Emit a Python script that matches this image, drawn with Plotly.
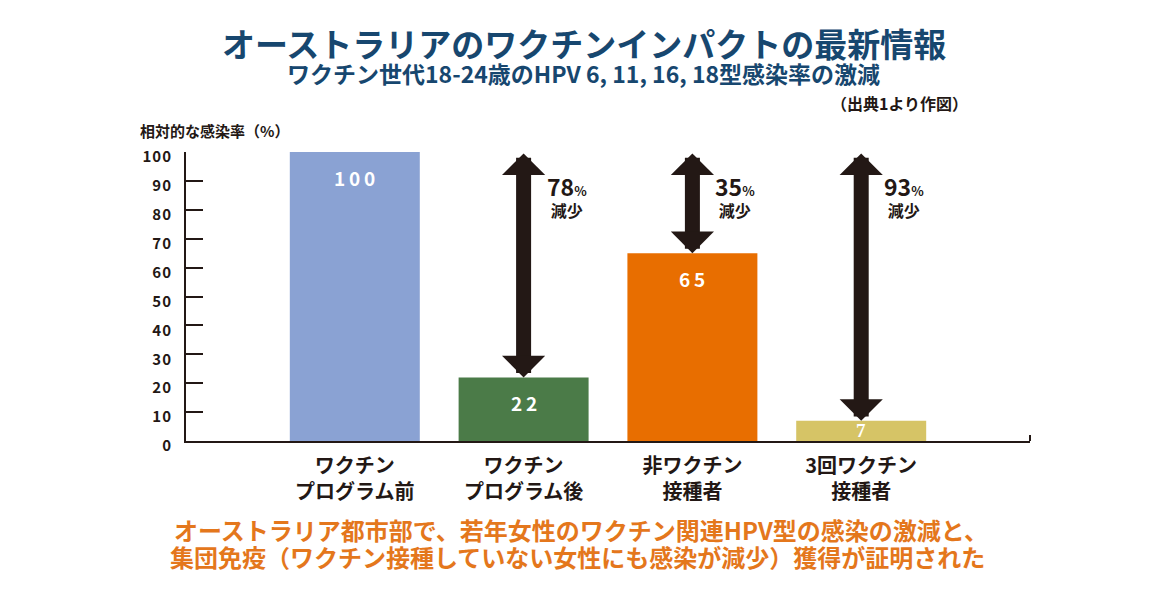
import plotly.graph_objects as go

# data
categories = ["ワクチン<br>プログラム前", "ワクチン<br>プログラム後", "非ワクチン<br>接種者", "3回ワクチン<br>接種者"]
infection_rate = [100, 22, 65, 7]
reduction = [78, 35, 93]  # % decrease vs. pre-programme, bars 2..4
y_ticks = [0, 10, 20, 30, 40, 50, 60, 70, 80, 90, 100]

bar_colors = ["#8aa2d3", "#4b7b48", "#e86e00", "#d6c466"]
dark = "#231815"
navy = "#17476f"
orange = "#e4771c"
jp = "Noto Sans CJK JP"

x_pos = list(range(len(categories)))

fig = go.Figure()
fig.add_trace(
    go.Bar(
        x=x_pos,
        y=infection_rate,
        width=0.77,
        marker=dict(color=bar_colors, line=dict(width=0)),
        hoverinfo="skip",
    )
)

annotations = []

# values inside the bars
for i, v in enumerate(infection_rate):
    label = "\u2009".join(str(v))
    if v >= 15:
        annotations.append(dict(x=i, y=v, yshift=-25, yanchor="middle", text="<b>" + label + "</b>",
                                showarrow=False, font=dict(family=jp, size=19, color="white")))
    else:
        annotations.append(dict(x=i, y=v / 2, yanchor="middle", text="<b>" + label + "</b>",
                                showarrow=False, font=dict(family="Liberation Serif", size=19, color="white")))

# double arrows from 100 down to each later bar
for i, r in enumerate(reduction, start=1):
    annotations.append(dict(
        x=i, y=infection_rate[i], ax=i, ay=infection_rate[0],
        xref="x", yref="y", axref="x", ayref="y",
        text="", showarrow=True,
        arrowhead=1, startarrowhead=1, arrowside="end+start",
        arrowwidth=15, arrowsize=0.48, startarrowsize=0.48,
        arrowcolor=dark, standoff=0, startstandoff=0,
    ))
    annotations.append(dict(
        x=i, y=85, xanchor="left", yanchor="middle", xshift=21,
        text="<b><span style='font-size:23px'>%d</span><span style='font-size:13px'>%%</span><br>減少</b>" % r,
        showarrow=False, align="center",
        font=dict(family=jp, size=16, color=dark),
    ))

# titles and notes (paper coords)
annotations += [
    dict(x=0.4716, y=1.378, xref="paper", yref="paper", xanchor="center", yanchor="middle", showarrow=False,
         text="<b>オーストラリアのワクチンインパクトの最新情報</b>",
         font=dict(family=jp, size=33, color=navy)),
    dict(x=0.4705, y=1.2734, xref="paper", yref="paper", xanchor="center", yanchor="middle", showarrow=False,
         text="<b>ワクチン世代18-24歳のHPV 6, 11, 16, 18型感染率の激減</b>",
         font=dict(family=jp, size=23, color=navy)),
    dict(x=0.929, y=1.17, xref="paper", yref="paper", xanchor="right", yanchor="middle", showarrow=False,
         text="<b>（出典1より作図）</b>",
         font=dict(family=jp, size=16, color=dark)),
    dict(x=-0.057, y=1.0727, xref="paper", yref="paper", xanchor="left", yanchor="middle", showarrow=False,
         text="<b>相対的な感染率（%）</b>",
         font=dict(family=jp, size=15, color=dark)),
    dict(x=-0.0166, y=-0.306, xref="paper", yref="paper", xanchor="left", yanchor="middle", showarrow=False,
         text="<b>オーストラリア都市部で、若年女性のワクチン関連HPV型の感染の激減と、</b>",
         font=dict(family=jp, size=24, color=orange)),
    dict(x=-0.0212, y=-0.4, xref="paper", yref="paper", xanchor="left", yanchor="middle", showarrow=False,
         text="<b>集団免疫（ワクチン接種していない女性にも感染が減少）獲得が証明された</b>",
         font=dict(family=jp, size=24, color=orange)),
]

# page body has an 8px margin, so the figure is 8px smaller on each offset side
fig.update_layout(
    width=1161,
    height=593,
    margin=dict(l=178, r=139, t=144, b=160, pad=0),
    paper_bgcolor="white",
    plot_bgcolor="white",
    showlegend=False,
    annotations=annotations,
    xaxis=dict(
        range=[-1, 4],
        tickvals=x_pos,
        ticktext=["<b>" + c + "</b>" for c in categories],
        tickfont=dict(family=jp, size=20, color=dark),
        showline=True, linecolor=dark, linewidth=1.5,
        showgrid=False, zeroline=False, ticks="",
        ticklabelstandoff=6,
        minor=dict(tickvals=[4], ticks="inside", ticklen=6, tickcolor=dark, tickwidth=1.5),
    ),
    yaxis=dict(
        range=[0, 100],
        tickvals=y_ticks,
        ticktext=["<b>" + "\u200a".join(str(t)) + "</b>" for t in y_ticks],
        tickfont=dict(family=jp, size=15, color=dark),
        ticks="inside", ticklen=17, tickwidth=2, tickcolor=dark,
        showline=True, linecolor=dark, linewidth=2,
        showgrid=False, zeroline=False,
        ticklabelstandoff=10, ticklabelshift=5,
    ),
)

fig.write_html("out.html")
